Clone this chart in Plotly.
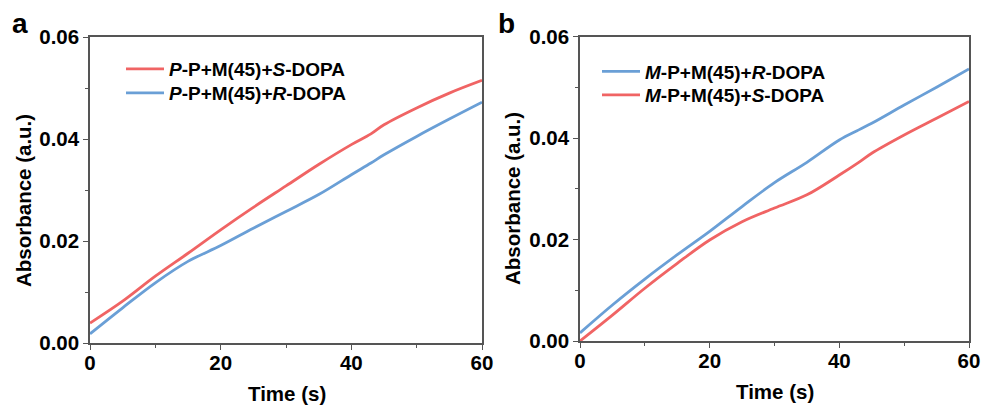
import plotly.graph_objects as go

time_s = [0, 5, 10, 15, 20, 25, 30, 35, 40, 43, 45, 50, 55, 60]

a_red_S = [0.0039, 0.0082, 0.0131, 0.0176, 0.0222, 0.0266, 0.0308, 0.0350, 0.0389, 0.0410, 0.0428, 0.0461, 0.0490, 0.0515]
a_blue_R = [0.0018, 0.0069, 0.0118, 0.0160, 0.0191, 0.0225, 0.0258, 0.0291, 0.0330, 0.0353, 0.0369, 0.0405, 0.0439, 0.0472]

b_blue_R = [0.0016, 0.0071, 0.0122, 0.0170, 0.0216, 0.0265, 0.0312, 0.0352, 0.0396, 0.0416, 0.0429, 0.0465, 0.0500, 0.0536]
b_red_S = [0.0000, 0.0051, 0.0104, 0.0153, 0.0199, 0.0235, 0.0262, 0.0288, 0.0327, 0.0352, 0.0370, 0.0406, 0.0439, 0.0472]

names_a = ["<i>P</i>-P+M(45)+<i>S</i>-DOPA", "<i>P</i>-P+M(45)+<i>R</i>-DOPA"]
names_b = ["<i>M</i>-P+M(45)+<i>R</i>-DOPA", "<i>M</i>-P+M(45)+<i>S</i>-DOPA"]

RED = "#F06464"
BLUE = "#6A9FD6"
FONT = "Liberation Sans, Arial"
LW = 2.8

fig = go.Figure()
fig.add_trace(go.Scatter(x=time_s, y=a_red_S, mode="lines", name=names_a[0],
                         line=dict(color=RED, width=LW, shape="spline"), xaxis="x", yaxis="y", legend="legend"))
fig.add_trace(go.Scatter(x=time_s, y=a_blue_R, mode="lines", name=names_a[1],
                         line=dict(color=BLUE, width=LW, shape="spline"), xaxis="x", yaxis="y", legend="legend2"))
fig.add_trace(go.Scatter(x=time_s, y=b_blue_R, mode="lines", name=names_b[0],
                         line=dict(color=BLUE, width=LW, shape="spline"), xaxis="x2", yaxis="y2", legend="legend3"))
fig.add_trace(go.Scatter(x=time_s, y=b_red_S, mode="lines", name=names_b[1],
                         line=dict(color=RED, width=LW, shape="spline"), xaxis="x2", yaxis="y2", legend="legend4"))

tickfont = dict(family=FONT, size=20.5, color="black", weight="bold")
axis_common = dict(
    showline=True, linecolor="#555555", linewidth=1.5, mirror=True,
    ticks="outside", ticklen=5, tickwidth=1.2, tickcolor="#555555",
    showgrid=False, zeroline=False, tickfont=tickfont, automargin=False,
)
xcommon = dict(axis_common, range=[0, 60], tickvals=[0, 20, 40, 60], ticklabelstandoff=-4,
               minor=dict(ticks="outside", ticklen=3, tickvals=[10, 30, 50], tickcolor="#555555"))
ycommon = dict(axis_common, range=[0, 0.06], tickvals=[0, 0.02, 0.04, 0.06], tickformat=".2f",
               minor=dict(ticks="outside", ticklen=3, tickvals=[0.01, 0.03, 0.05], tickcolor="#555555"))

W, H = 984, 408
legfont = dict(family=FONT, size=19, color="black", weight="bold")


def leg(xpx, ypx):
    return dict(x=xpx / W, y=1 - ypx / H, xanchor="left", yanchor="middle", bgcolor="rgba(0,0,0,0)",
                font=legfont, itemwidth=38, tracegroupgap=0, borderwidth=0)


fig.update_layout(
    width=W, height=H, margin=dict(l=0, r=0, t=0, b=0, pad=0, autoexpand=False),
    paper_bgcolor="white", plot_bgcolor="white",
    xaxis=dict(xcommon, domain=[90 / W, 482 / W], anchor="y"),
    yaxis=dict(ycommon, domain=[1 - 343 / H, 1 - 37 / H], anchor="x"),
    xaxis2=dict(xcommon, domain=[580 / W, 969 / W], anchor="y2"),
    yaxis2=dict(ycommon, domain=[1 - 341 / H, 1 - 36.5 / H], anchor="x2"),
    legend=leg(121, 69),
    legend2=leg(121, 93),
    legend3=leg(597, 71.5),
    legend4=leg(597, 95),
    showlegend=True,
)

ann_font = dict(family=FONT, size=20.5, color="black", weight="bold")
lab_font = dict(family=FONT, size=28, color="black", weight="bold")
annotations = [
    dict(text="Absorbance (a.u.)", x=23 / W, y=1 - 201 / H, textangle=-90, font=ann_font),
    dict(text="Time (s)", x=286.5 / W, y=1 - 393 / H, font=ann_font),
    dict(text="Absorbance (a.u.)", x=512 / W, y=1 - 199 / H, textangle=-90, font=ann_font),
    dict(text="Time (s)", x=775 / W, y=1 - 391 / H, font=ann_font),
    dict(text="a", x=20 / W, y=1 - 23 / H, font=lab_font),
    dict(text="b", x=506 / W, y=1 - 23 / H, font=lab_font),
]
for a in annotations:
    a.update(xref="paper", yref="paper", showarrow=False, xanchor="center", yanchor="middle")
fig.update_layout(annotations=annotations)

fig.write_html("out.html")
